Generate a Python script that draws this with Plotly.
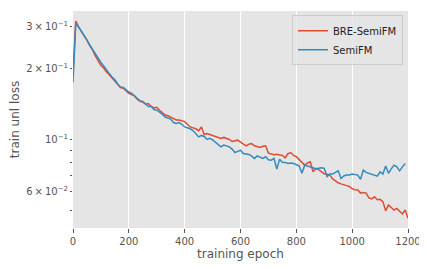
import plotly.graph_objects as go
import math

epochs_bre = list(range(0, 1201, 10))
epochs_semi = list(range(0, 1191, 10))

bre_semifm = [
    0.190, 0.318, 0.300, 0.288, 0.275, 0.264, 0.250, 0.240, 0.226, 0.216,
    0.206, 0.201, 0.193, 0.188, 0.182, 0.177, 0.171, 0.166, 0.165, 0.161,
    0.157, 0.155, 0.153, 0.148, 0.145, 0.144, 0.141, 0.142, 0.138, 0.136,
    0.137, 0.133, 0.130, 0.127, 0.126, 0.124, 0.123, 0.121, 0.121, 0.120,
    0.119, 0.116, 0.113, 0.112, 0.111, 0.109, 0.113, 0.105, 0.106, 0.105,
    0.104, 0.103, 0.102, 0.101, 0.102, 0.101, 0.100, 0.098, 0.0985, 0.0993,
    0.0975, 0.0955, 0.094, 0.0955, 0.096, 0.094, 0.093, 0.0925, 0.0935, 0.094,
    0.0875, 0.0866, 0.0862, 0.0865, 0.0862, 0.0855, 0.0836, 0.087, 0.088, 0.0855,
    0.0845, 0.0822, 0.080, 0.0778, 0.0795, 0.0804, 0.0729, 0.0752, 0.0745, 0.0729,
    0.0715, 0.0712, 0.0706, 0.068, 0.0667, 0.0655, 0.0648, 0.064, 0.0637, 0.0632,
    0.0618, 0.0612, 0.061, 0.0592, 0.0596, 0.0592, 0.0565, 0.056, 0.0571, 0.0555,
    0.0557, 0.0545, 0.0498, 0.0527, 0.0515, 0.0502, 0.051, 0.0495, 0.0483, 0.0502,
    0.0463,
]

semifm = [
    0.175, 0.312, 0.300, 0.288, 0.277, 0.264, 0.252, 0.241, 0.230, 0.221,
    0.212, 0.205, 0.196, 0.190, 0.184, 0.179, 0.172, 0.167, 0.166, 0.162,
    0.159, 0.157, 0.153, 0.149, 0.146, 0.145, 0.141, 0.138, 0.138, 0.134,
    0.133, 0.131, 0.128, 0.1245, 0.123, 0.122, 0.118, 0.117, 0.118, 0.116,
    0.113, 0.112, 0.111, 0.109, 0.106, 0.1025, 0.104, 0.103, 0.100, 0.101,
    0.0995, 0.0975, 0.095, 0.093, 0.0946, 0.094, 0.093, 0.091, 0.088, 0.089,
    0.090, 0.0872, 0.087, 0.0864, 0.085, 0.0831, 0.0852, 0.084, 0.0831, 0.0844,
    0.082, 0.0817, 0.0831, 0.0748, 0.0825, 0.080, 0.0799, 0.0791, 0.0795, 0.0791,
    0.078, 0.0773, 0.0718, 0.0778, 0.0772, 0.0765, 0.0757, 0.0752, 0.0754, 0.0758,
    0.0754, 0.0695, 0.0713, 0.0713, 0.0725, 0.0736, 0.0683, 0.070, 0.0706, 0.0706,
    0.0713, 0.071, 0.0706, 0.0677, 0.0741, 0.0725, 0.0718, 0.0713, 0.0706, 0.0699,
    0.0729, 0.0713, 0.0771, 0.0718, 0.075, 0.0778, 0.0765, 0.0736, 0.0765, 0.0791,
]

x_ticks = [0, 200, 400, 600, 800, 1000, 1200]
y_ticks = [0.06, 0.1, 0.2, 0.3]
y_tick_text = ["6\u2009×\u200910<sup>−2</sup>", "10<sup>−1</sup>",
               "2\u2009×\u200910<sup>−1</sup>", "3\u2009×\u200910<sup>−1</sup>"]
y_minor = [0.04, 0.05, 0.07, 0.08, 0.09, 0.4]
y_major_grid = [0.1]

y_range = [math.log10(0.0421), math.log10(0.3507)]
grey = "#555555"
font_family = "DejaVu Sans"

fig = go.Figure()
fig.add_trace(go.Scatter(x=epochs_bre, y=bre_semifm, mode="lines", name="BRE-SemiFM",
                         line=dict(color="#E24A33", width=1.5), yaxis="y2"))
fig.add_trace(go.Scatter(x=epochs_semi, y=semifm, mode="lines", name="SemiFM",
                         line=dict(color="#348ABD", width=1.5), yaxis="y2"))

# the page body adds an 8px offset, so margins compensate for it
fig.update_layout(
    width=427, height=269,
    margin=dict(l=65, r=27, t=3, b=49, autoexpand=False),
    paper_bgcolor="white",
    plot_bgcolor="#E5E5E5",
    font=dict(family=font_family, size=10, color=grey),
    showlegend=True,
    legend=dict(x=0.985, y=0.98, xanchor="right", yanchor="top",
                bgcolor="rgba(229,229,229,0.8)", bordercolor="#CCCCCC", borderwidth=1,
                font=dict(size=10, color="#222222"), tracegroupgap=0,
                itemwidth=30),
    xaxis=dict(range=[0, 1200], tickvals=x_ticks, ticks="outside", ticklen=3.5,
               tickcolor=grey, showgrid=True, gridcolor="white", gridwidth=1,
               zeroline=False, showline=False, automargin=False,
               title=dict(text="training epoch", font=dict(size=12, color=grey), standoff=4),
               tickfont=dict(size=10, color=grey)),
    yaxis=dict(type="log", range=y_range, tickvals=y_major_grid, ticks="outside",
               ticklen=3.5, tickcolor=grey, showgrid=True, gridcolor="white",
               gridwidth=1, showticklabels=False, zeroline=False, showline=False,
               automargin=False),
    yaxis2=dict(type="log", range=y_range, overlaying="y", side="left",
                tickvals=y_ticks, ticktext=y_tick_text, ticks="outside", ticklen=2,
                tickcolor=grey, showgrid=False, zeroline=False, showline=False,
                automargin=False,
                minor=dict(tickvals=y_minor, ticks="outside", ticklen=2,
                           tickcolor=grey, showgrid=False),
                title=dict(text="train unl loss", font=dict(size=12, color=grey), standoff=6),
                tickfont=dict(size=10, color=grey)),
)

fig.write_html("out.html")
